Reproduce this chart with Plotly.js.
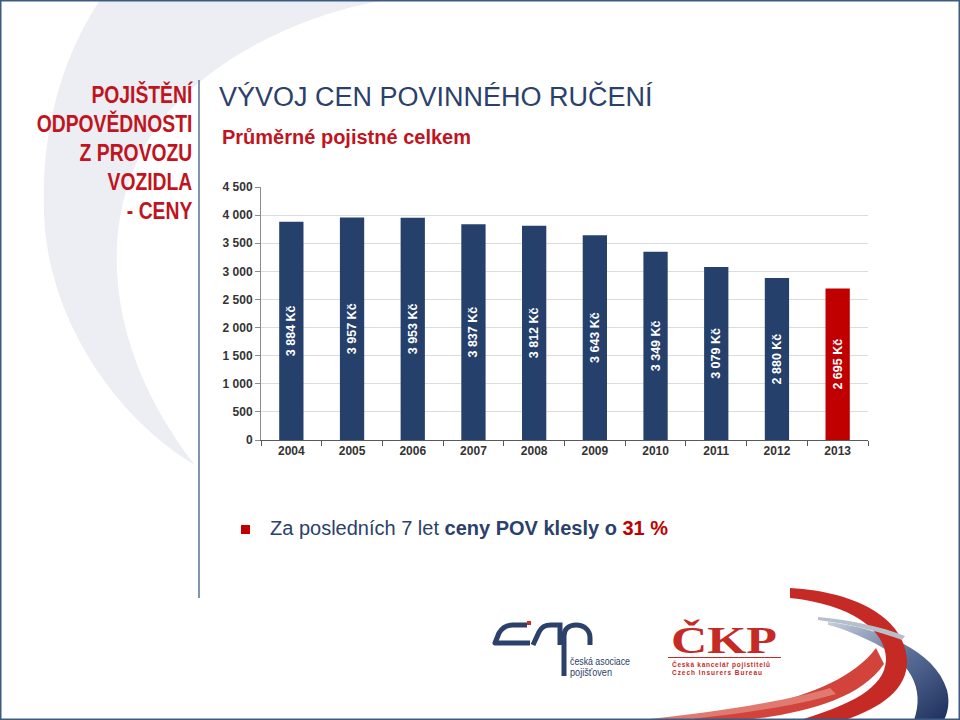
<!DOCTYPE html>
<html>
<head>
<meta charset="utf-8">
<script src="https://cdn.plot.ly/plotly-3.0.1.min.js"></script>
<style>
  html, body { margin:0; padding:0; background:#fff; }
  #slide { position:relative; width:960px; height:720px; overflow:hidden; font-family:"Liberation Sans", Arial, sans-serif; }
  #deco { position:absolute; left:0; top:0; }
  #chart { position:absolute; left:0; top:0; width:960px; height:720px; }
  .t { position:absolute; white-space:nowrap; }
</style>
</head>
<body>
<div id="slide">
  <svg id="deco" width="960" height="720" viewBox="0 0 960 720">
    <defs>
      <linearGradient id="blueG" x1="0" y1="0" x2="1" y2="1">
        <stop offset="0" stop-color="#c8cfdc"/>
        <stop offset="0.5" stop-color="#5a6f98"/>
        <stop offset="1" stop-color="#1c2f5c"/>
      </linearGradient>
    </defs>
    <!-- light swoosh top-left -->
    <path d="M100,0 L385,0 C300,15 220,55 170,110 C100,190 90,330 195,465 C120,420 55,330 45,230 C38,140 60,60 100,0 Z" fill="#eceef3"/>
    <!-- vertical divider -->
    <line x1="199" y1="80" x2="199" y2="598" stroke="#5a7194" stroke-width="1.5"/>
    <!-- bottom-right swooshes -->
    <path d="M828,622 C880,628 935,650 947,690 C950,702 948,712 944,720 L914,720 C925,690 912,660 868,640 C855,634 842,628 828,625 Z" fill="url(#blueG)"/>
    <path d="M790,588 C860,592 905,620 907,660 C908,690 880,708 845,720 L800,720 C850,705 885,688 886,660 C887,630 850,604 790,598 Z" fill="#c62a25"/>
    <path d="M680,720 C770,708 845,690 876,648 L884,664 C860,700 800,714 745,720 Z" fill="#d2443b"/>
    <path d="M640,720 C720,712 790,700 830,688 L836,694 C790,708 720,716 680,720 Z" fill="#e07a70"/>
    <path d="M818,617 C850,620 880,626 905,636 L902,640 C878,631 850,624 818,620 Z" fill="#b7bfcc"/>
    <!-- CAP logo -->
    <path d="M527,625 L513,625 C506,625 502,628 499,633 L495,643 L530,643" fill="none" stroke="#2b416b" stroke-width="5" stroke-linejoin="round"/>
    <rect x="527" y="621" width="4" height="4" fill="#c9302a"/>
    <path d="M533,645 L539,632 C542,626 546,625 551,625 L560,625 L560,645" fill="none" stroke="#2b416b" stroke-width="5"/>
    <path d="M564,676 L564,636 C564,629 569,625 576,625 C584,625 590,630 590,638 L590,645" fill="none" stroke="#2b416b" stroke-width="5"/>
    <text x="570" y="665" font-family="Liberation Sans" font-size="11" fill="#2b416b" textLength="60" lengthAdjust="spacingAndGlyphs">česká asociace</text>
    <text x="570" y="676" font-family="Liberation Sans" font-size="11" fill="#2b416b" textLength="42" lengthAdjust="spacingAndGlyphs">pojišťoven</text>
    <!-- CKP logo -->
    <text x="671" y="653" font-family="Liberation Serif" font-weight="bold" font-size="37" fill="#c62a25" textLength="106" lengthAdjust="spacingAndGlyphs">ČKP</text>
    <line x1="668" y1="657.5" x2="781" y2="657.5" stroke="#c62a25" stroke-width="1"/>
    <text x="672" y="667" font-family="Liberation Sans" font-weight="bold" font-size="6.5" fill="#c62a25" textLength="98">Česká kancelář pojistitelů</text>
    <text x="672" y="675" font-family="Liberation Sans" font-weight="bold" font-size="6.5" fill="#c62a25" textLength="90">Czech Insurers Bureau</text>
    <!-- bullet -->
    <rect x="241" y="525" width="9" height="9" fill="#c00000"/>
    <!-- frame -->
    <rect x="0.75" y="0.75" width="958.5" height="718.5" fill="none" stroke="#3c5a82" stroke-width="1.5"/>
  </svg>

  <div class="t" style="right:768px; top:81px; text-align:right; color:#c0141e; font-family:'Liberation Sans',sans-serif; font-weight:bold; font-size:23px; line-height:29px; transform:scaleX(0.84); transform-origin:right top;">
    POJIŠTĚNÍ<br>ODPOVĚDNOSTI<br>Z PROVOZU<br>VOZIDLA<br>- CENY
  </div>
  <div class="t" style="left:219px; top:82px; color:#2b416b; font-size:27px;">VÝVOJ CEN POVINNÉHO RUČENÍ</div>
  <div class="t" style="left:222px; top:126px; color:#c0141e; font-size:20px; font-weight:bold;">Průměrné pojistné celkem</div>
  <div class="t" style="left:270px; top:517px; color:#2b416b; font-size:20px;">Za posledních 7 let <b>ceny POV klesly o</b> <b style="color:#c00000">31 %</b></div>

  <div id="chart"></div>
</div>
<script>
const years = ['2004','2005','2006','2007','2008','2009','2010','2011','2012','2013'];
const prices = [3884, 3957, 3953, 3837, 3812, 3643, 3349, 3079, 2880, 2695];
const barColors = ['#24406b','#24406b','#24406b','#24406b','#24406b','#24406b','#24406b','#24406b','#24406b','#c00000'];
const yTicks = [0, 500, 1000, 1500, 2000, 2500, 3000, 3500, 4000, 4500];

function fmt(v) {
  return String(v).replace(/\B(?=(\d{3})+(?!\d))/g, ' ');
}
const labels = prices.map(v => fmt(v) + ' Kč');

Plotly.newPlot('chart', [{
  type: 'bar',
  x: years,
  y: prices,
  marker: { color: barColors },
  text: labels,
  textposition: 'inside',
  insidetextanchor: 'middle',
  textangle: -90,
  textfont: { family: 'Liberation Sans, Arial, sans-serif', size: 12.5, color: '#ffffff', weight: 'bold' },
  hoverinfo: 'skip'
}], {
  width: 960, height: 720,
  paper_bgcolor: 'rgba(0,0,0,0)',
  plot_bgcolor: 'rgba(0,0,0,0)',
  margin: { l: 261, r: 92, t: 187, b: 280 },
  bargap: 0.6,
  showlegend: false,
  font: { family: 'Liberation Sans, Arial, sans-serif' },
  xaxis: {
    type: 'category',
    showgrid: false,
    showline: true, linecolor: '#595959', linewidth: 1,
    ticks: 'outside', tickson: 'boundaries', ticklen: 5, tickcolor: '#595959',
    tickfont: { size: 12, color: '#333333', weight: 'bold' }
  },
  yaxis: {
    range: [0, 4500],
    tickvals: yTicks,
    ticktext: yTicks.map(fmt),
    showgrid: true, gridcolor: '#dcdcdc', gridwidth: 1,
    showline: true, linecolor: '#8c8c8c', linewidth: 1,
    ticks: 'outside', ticklen: 5, tickcolor: '#8c8c8c',
    zeroline: false,
    tickfont: { size: 12, color: '#333333', weight: 'bold' }
  }
}, { staticPlot: true });
</script>
</body>
</html>
